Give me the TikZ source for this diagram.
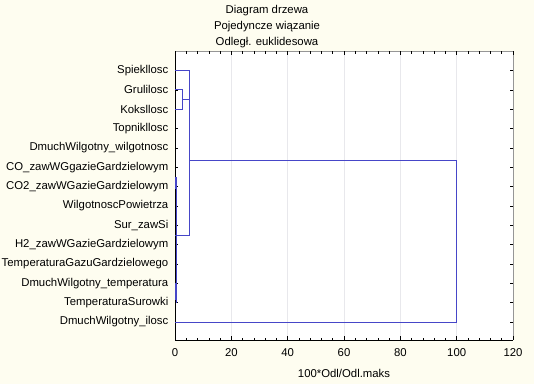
\documentclass[tikz,border=0pt]{standalone}
\usepackage{fontspec}
\setmainfont{Liberation Sans}
\definecolor{bgc}{RGB}{254,253,240}
\definecolor{dend}{RGB}{70,70,200}
\definecolor{gridc}{RGB}{232,232,236}
\definecolor{framer}{RGB}{150,150,150}
\tikzset{
  lbl/.style={anchor=east, inner sep=0pt},
  ttl/.style={inner sep=0pt},
  tlab/.style={inner sep=0pt},
  dline/.style={draw=dend, line width=0.9bp},
}
\begin{document}
\begin{tikzpicture}[x=1bp,y=-1bp,font=\fontsize{11.35bp}{13bp}\selectfont]
\fill[bgc] (0,0) rectangle (534,384);
\useasboundingbox (0,0) rectangle (534,384);
\fill[white] (175,51) rectangle (513,340);
% grid
\foreach \v in {20,40,60,80,100}
  \draw[gridc, line width=0.8bp] ({175+\v*2.8167},51) -- ({175+\v*2.8167},340);
% titles
\node[ttl] (t1) at (267,11) {Diagram drzewa};
\node[ttl] (t2) at (267,27) {Pojedyncze wiązanie};
\node[ttl] (t3) at (267,43) {Odległ. euklidesowa};
% frame
\draw[framer, line width=0.9bp] (175,51) -- (513,51) -- (513,340);
\draw[black, line width=0.9bp] (175,51) -- (175,340) -- (513,340);
% x ticks
\foreach \v in {4,8,...,116} {
  \draw[black, line width=0.6bp] ({175+\v*2.8167},340) -- ++(0,-2.5);
  \draw[black, line width=0.6bp] ({175+\v*2.8167},51) -- ++(0,2.5);
}
\foreach \v in {0,20,...,120} {
  \draw[black, line width=0.7bp] ({175+\v*2.8167},340) -- ++(0,-4);
  \draw[black, line width=0.7bp] ({175+\v*2.8167},51) -- ++(0,4);
  \node[tlab] (x\v) at ({175+\v*2.8167},353) {\v};
}
\node[tlab] (xt) at (344,373) {100*Odl/Odl.maks};
% labels and y ticks
\foreach \nm [count=\i from 0] in {Spiekllosc,Grulilosc,Koksllosc,Topnikllosc,DmuchWilgotny\_wilgotnosc,CO\_zawWGgazieGardzielowym,CO2\_zawWGazieGardzielowym,WilgotnoscPowietrza,Sur\_zawSi,H2\_zawWGazieGardzielowym,TemperaturaGazuGardzielowego,DmuchWilgotny\_temperatura,TemperaturaSurowki,DmuchWilgotny\_ilosc} {
  \node[lbl] (l\i) at (168.5,{70.5+19.35*\i}) {\nm};
  \draw[black, line width=0.6bp] (175,{70.5+19.35*\i}) -- ++(3,0);
  \draw[black, line width=0.6bp] (513,{70.5+19.35*\i}) -- ++(-3,0);
}
% dendrogram
\coordinate (sp) at (175,70.5);
\coordinate (gr) at (175,89.85);
\coordinate (ko) at (175,109.2);
\coordinate (dm) at (175,322.05);
\draw[dline] (sp) -- (189.5,70.5) -- (189.5,235) -- (175,235);
\draw[dline] (gr) -- (182.5,89.85) -- (182.5,109.2) -- (ko);
\draw[dline] (182.5,99.5) -- (189.5,99.5);
\draw[dline] (189.5,160) -- (456.7,160) -- (456.7,322.05) -- (dm);
\draw[dline] (176,177) -- (176,303);
\draw[dend, line width=1.6bp] (176,177) -- (176,189);
\draw[dend, line width=1.6bp] (176,283) -- (176,300);
\end{tikzpicture}
\end{document}
